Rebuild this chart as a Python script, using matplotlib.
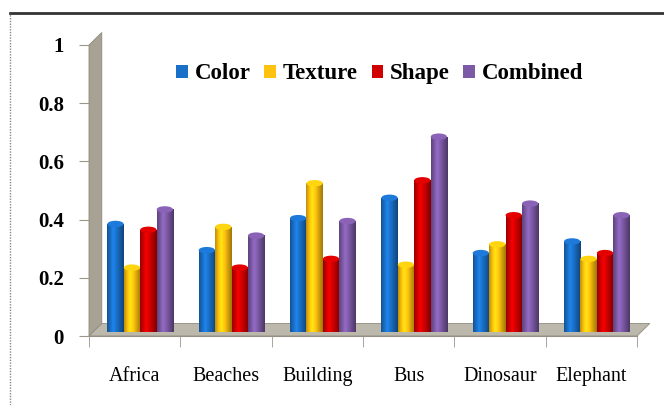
import matplotlib
matplotlib.use('Agg')
import matplotlib.pyplot as plt
import numpy as np
from matplotlib.patches import Polygon, Ellipse
from matplotlib.lines import Line2D
from matplotlib.colors import to_rgb

categories = ["Africa", "Beaches", "Building", "Bus", "Dinosaur", "Elephant"]
series = ["Color", "Texture", "Shape", "Combined"]
color_vals = [0.37, 0.28, 0.39, 0.46, 0.27, 0.31]
texture_vals = [0.22, 0.36, 0.51, 0.23, 0.30, 0.25]
shape_vals = [0.35, 0.22, 0.25, 0.52, 0.40, 0.27]
combined_vals = [0.42, 0.33, 0.38, 0.67, 0.44, 0.40]
yticks = [0, 0.2, 0.4, 0.6, 0.8, 1]
ytick_labels = ["0", "0.2", "0.4", "0.6", "0.8", "1"]

values = [color_vals, texture_vals, shape_vals, combined_vals]
colors = ["#1a6fc6", "#ffc20e", "#d00000", "#7d5aa6"]

SERIF = ["Liberation Serif", "DejaVu Serif"]

fig = plt.figure(figsize=(6.64, 4.05), dpi=100)
ax = fig.add_axes([89 / 664, 1 - 336 / 405, 548 / 664, 291 / 405])

# 3D-ish wall and floor (depth ~ 13 px)
dx, dy = 0.14, 0.043
wall = Polygon([(0, 0), (0, 1), (dx, 1 + dy), (dx, dy)], closed=True,
               facecolor="#a8a294", edgecolor="#8f8a7e", lw=0.6, clip_on=False, zorder=1)
floor = Polygon([(0, 0), (6, 0), (6 + dx, dy), (dx, dy)], closed=True,
                facecolor="#bcb8ac", edgecolor="#8f8a7e", lw=0.6, clip_on=False, zorder=1)
ax.add_patch(wall)
ax.add_patch(floor)

# cylinder-like shading across each bar
shade = np.concatenate([np.linspace(0.75, 1.18, 12), np.linspace(1.18, 0.62, 20)])

width = 0.178
base = 0.015
for i, (vals, c) in enumerate(zip(values, colors)):
    rgb = np.array(to_rgb(c))
    grad = np.clip(shade[:, None] * rgb[None, :], 0, 1)[None, :, :]
    xs = np.arange(len(categories)) + 0.5 + (i - 1.5) * 0.18 + 0.06
    bars = ax.bar(xs, vals, width=width, bottom=base, color=c, zorder=3,
                  label=series[i], linewidth=0)
    for b in bars:
        x0 = b.get_x()
        h = b.get_height()
        ax.imshow(grad, extent=(x0, x0 + width, base, base + h), aspect="auto",
                  zorder=3.5, interpolation="bilinear")
        cap = Ellipse((x0 + width / 2, base + h), width, 0.022,
                      facecolor=tuple(np.clip(rgb * 1.1, 0, 1)), edgecolor="none", zorder=3.6)
        ax.add_patch(cap)

ax.set_xlim(0, 6)
ax.set_ylim(0, 1)
ax.set_aspect("auto")

for s in ["top", "right", "left"]:
    ax.spines[s].set_visible(False)
ax.spines["bottom"].set_color("#9a968c")
ax.spines["bottom"].set_zorder(0.5)

ax.set_yticks(yticks)
ax.set_yticklabels(ytick_labels, family=SERIF, fontweight="bold", fontsize=15)
ax.tick_params(axis="y", length=7, color="#9a968c", pad=11)

ax.set_xticks(np.arange(len(categories)) + 0.5)
ax.set_xticklabels(categories, family=SERIF, fontsize=14.5)
ax.set_xticks(np.arange(len(categories) + 1), minor=True)
ax.tick_params(axis="x", which="major", length=0, pad=22)
ax.tick_params(axis="x", which="minor", length=8, color="#9a968c")

leg = ax.legend(loc="upper left", bbox_to_anchor=(0.122, 1.008), ncol=4, frameon=False,
                prop={"family": SERIF, "weight": "bold", "size": 16.5},
                handlelength=0.5, handleheight=0.5, handletextpad=0.3, columnspacing=0.6)

# outer frame pieces
fig.add_artist(Line2D([10 / 664, 1], [1 - 13 / 405, 1 - 13 / 405], color="#333333", lw=2))
fig.add_artist(Line2D([10 / 664, 10 / 664], [0, 1 - 13 / 405], color="#888888", lw=1,
                      linestyle=(0, (1, 1))))

fig.savefig("out.png", dpi=100)
